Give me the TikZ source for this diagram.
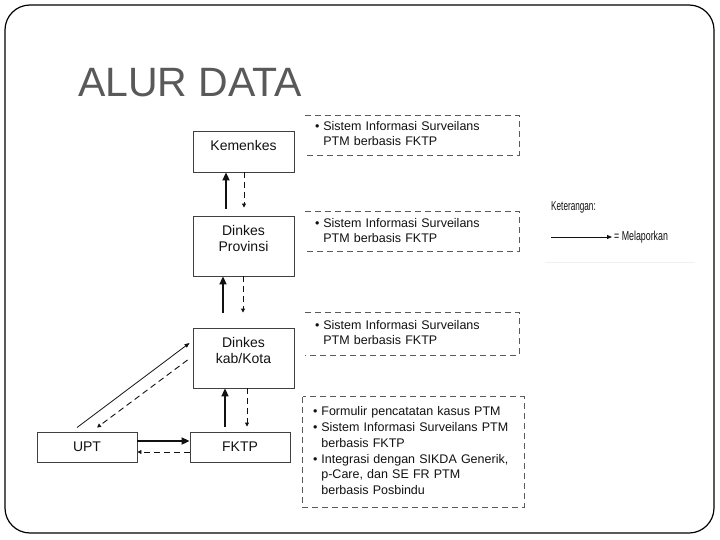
\documentclass[tikz,border=0pt]{standalone}
\usepackage{graphicx}
\usepackage{fontspec}
\setmainfont{Liberation Sans}
\usetikzlibrary{arrows.meta}
\definecolor{ink}{HTML}{111111}
\definecolor{titlegray}{HTML}{595959}
\definecolor{boxline}{HTML}{404040}
\definecolor{dashgray}{HTML}{5A5A5A}
\begin{document}
\begin{tikzpicture}[x=1pt,y=-1pt,
  box/.style={draw=boxline, line width=0.9pt, minimum width=101pt, inner sep=0pt, align=center, font=\fontsize{14}{16}\selectfont, text=ink},
  infobox/.style={inner xsep=10pt, inner ysep=0pt, text width=194pt, align=left, font=\fontsize{12.5}{15}\selectfont, text=ink},
  dashbox/.style={draw=dashgray, line width=1pt, dash pattern=on 6pt off 4pt},
  rep/.style={draw=ink, line width=2.4pt, -{Triangle[length=8pt,width=7pt]}},
  fb/.style={draw=ink, line width=0.9pt, dash pattern=on 6pt off 4pt, -{Triangle[length=4pt,width=4pt]}},
  repthin/.style={draw=ink, line width=0.8pt, -{Triangle[length=5pt,width=4pt]}},
  legend/.style={anchor=west, inner sep=0pt, text=ink, font=\fontsize{13}{15}\selectfont}]
\useasboundingbox (0,0) rectangle (720,540);
\draw[line width=1.2pt, rounded corners=25pt] (5,5) rectangle (714,533);

\node[anchor=base west, inner sep=0pt, text=titlegray, font=\fontsize{41}{48}\selectfont] (title) at (78,97) {ALUR DATA};

% hierarchy boxes
\node[box, minimum height=41pt, text height=10pt, text depth=11pt] (kem) at (243.5,151.5) {Kemenkes};
\node[box, minimum height=60pt, text depth=15pt] (prov) at (243.5,246) {Dinkes\\Provinsi};
\node[box, minimum height=60pt, text depth=16pt] (kab) at (243.5,358) {Dinkes\\kab/Kota};
\node[box, minimum width=100pt, minimum height=30pt] (fktp) at (240,447) {FKTP};
\node[box, minimum width=100pt, minimum height=30pt] (upt) at (87,447) {UPT};

% info boxes
\node[infobox, minimum height=39pt] (i1) at (412,135.5) {\begin{tabular}{@{}l@{\hspace{4pt}}l@{}}\textbullet & Sistem Informasi Surveilans\\ & PTM berbasis FKTP\end{tabular}};
\node[infobox, minimum height=39pt] (i2) at (412,231.5) {\begin{tabular}{@{}l@{\hspace{4pt}}l@{}}\textbullet & Sistem Informasi Surveilans\\ & PTM berbasis FKTP\end{tabular}};
\node[infobox, minimum height=42pt] (i3) at (412,334) {\begin{tabular}{@{}l@{\hspace{4pt}}l@{}}\textbullet & Sistem Informasi Surveilans\\ & PTM berbasis FKTP\end{tabular}};
\node[infobox, text width=201pt, minimum height=110pt] (i4) at (413.5,452) {\renewcommand{\arraystretch}{1.05}\begin{tabular}{@{}l@{\hspace{4pt}}l@{}}\textbullet & Formulir pencatatan kasus PTM\\ \textbullet & Sistem Informasi Surveilans PTM\\ & berbasis FKTP\\ \textbullet & Integrasi dengan SIKDA Generik,\\ & p-Care, dan SE FR PTM\\ & berbasis Posbindu\end{tabular}};
\draw[dashbox] (i1.north west) -- (i1.north east) -- (i1.south east) -- (i1.south west);
\draw[dashbox] (i2.north west) -- (i2.north east) -- (i2.south east) -- (i2.south west);
\draw[dashbox] (i3.north west) -- (i3.north east) -- (i3.south east) -- (i3.south west);
\draw[dashbox] (i4.north west) rectangle (i4.south east);

% connectors
\draw[rep] ([xshift=-17.5pt,yshift=7pt]prov.north) -- ([xshift=-17.5pt]kem.south);
\draw[fb] ([xshift=0.5pt]kem.south) -- ([xshift=0.5pt,yshift=8pt]prov.north);
\draw[rep] ([xshift=-20.5pt,yshift=15pt]kab.north) -- ([xshift=-20.5pt]prov.south);
\draw[fb] ([xshift=-0.5pt]prov.south) -- ([xshift=-0.5pt,yshift=15pt]kab.north);
\draw[rep] ([xshift=-15pt,yshift=5pt]fktp.north) -- ([xshift=-18.5pt]kab.south);
\draw[fb] ([xshift=3.5pt]kab.south) -- ([xshift=7pt,yshift=5pt]fktp.north);
\draw[rep] ([yshift=6pt]upt.east) -- ([yshift=6pt]fktp.west);
\draw[fb] ([yshift=-5pt]fktp.west) -- ([yshift=-5pt]upt.east);
\draw[repthin] ([xshift=-10pt,yshift=4pt]upt.north) -- ([xshift=-3pt,yshift=15pt]kab.west);
\draw[fb] ([xshift=-5pt,yshift=-2pt]kab.west) -- ([xshift=10pt,yshift=4pt]upt.north);

% legend
\node[legend] (ket) at (551,207) {\scalebox{0.63}[1]{Keterangan:}};
\coordinate (lgs) at (551,237);
\node[legend] (mel) at (614,237) {\scalebox{0.68}[1]{= Melaporkan}};
\draw[repthin] (lgs) -- ([xshift=-2pt]mel.west);
\draw[black!6, line width=1pt] (545,262) -- (695,262);
\end{tikzpicture}
\end{document}
